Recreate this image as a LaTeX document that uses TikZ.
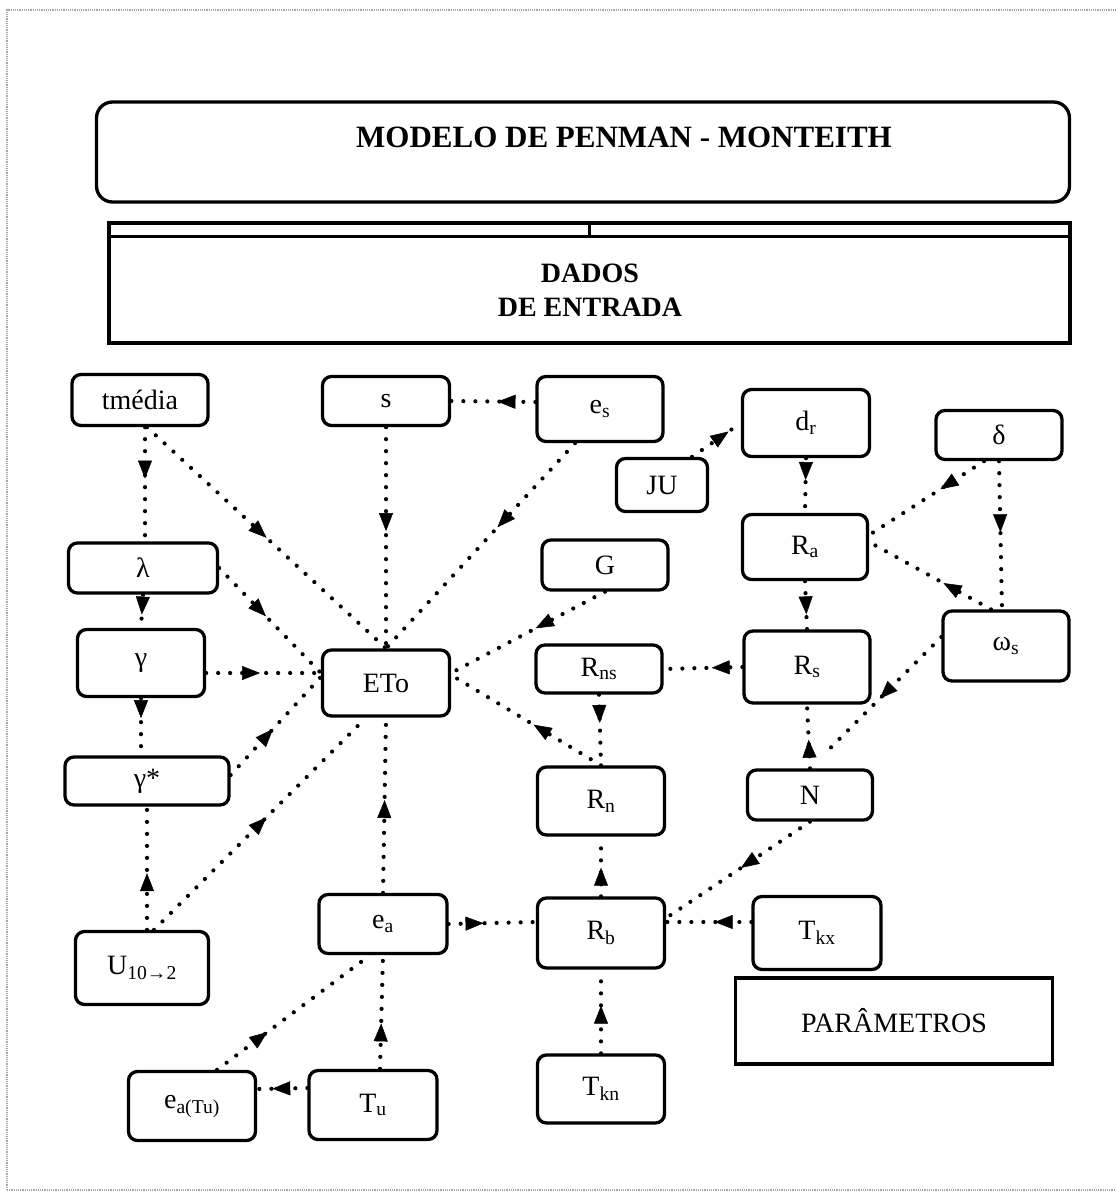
\documentclass[tikz,border=0pt]{standalone}
\usepackage{fontspec}
\setmainfont{Liberation Serif}
\usetikzlibrary{arrows.meta, decorations.markings}

\newcommand{\lblfont}{\fontsize{28}{31}\selectfont}
\newcommand{\sbs}[1]{\textsubscript{#1}}

\begin{document}
\begin{tikzpicture}[x=1pt, y=-1pt,
    box/.style 2 args = {draw, line width=3.3pt, rounded corners=9pt, minimum width=#1, minimum height=#2, inner sep=0pt, font=\lblfont},
    link/.style = {line width=4.2pt, line cap=round, dash pattern=on 0pt off 12pt},
    feed/.style = {link, postaction=decorate, decoration={markings, mark=at position #1 with {\arrow{Triangle[length=18pt, width=14pt, line width=0.5pt]}}}},
    feed/.default = 0.5]
        \useasboundingbox (0,0) rectangle (1116,1192);
        \draw[gray!70, line width=1.2pt, densely dotted] (7,1190) -- (7,10) -- (1116,10) (7,1190) -- (1116,1190);

        % cabecalho
        \node[draw, line width=3.3pt, rounded corners=16pt, minimum width=973, minimum height=100] (title) at (583,152) {};
        \node[font=\fontsize{31}{34}\selectfont\bfseries] (titletext) at (624,137) {MODELO DE PENMAN - MONTEITH};
        \node[draw, line width=3.3pt, minimum width=961, minimum height=120] (dados) at (589.5,283) {};
        \draw[line width=3.3pt] ([yshift=-15pt]dados.north west) -- ([yshift=-15pt]dados.north east);
        \draw[line width=2.4pt] (dados.north) -- ([yshift=-15pt]dados.north);
        \node[align=center, font=\fontsize{28}{34}\selectfont\bfseries] (dadostext) at (590,290) {DADOS\\DE ENTRADA};

        % caixas
        \node[box={136}{51}] (tmedia) at (140,400) {tmédia};
        \node[box={127}{49}] (s) at (386,401) {s};
        \node[box={126}{65}] (es) at (600,409) {e\sbs{s}};
        \node[box={127}{67}] (dr) at (806,423) {d\sbs{r}};
        \node[box={91}{53}] (JU) at (662,485) {JU};
        \node[box={126}{49}] (delta) at (999,435) {δ};
        \node[box={149}{50}] (lambda) at (143,568) {λ};
        \node[box={126}{50}] (G) at (605,565) {G};
        \node[box={125}{65}] (Ra) at (805,547) {R\sbs{a}};
        \node[box={127}{67}] (gamma) at (141,663) {γ};
        \node[box={127}{66}] (ETo) at (386,683) {ETo};
        \node[box={126}{48}] (Rns) at (599,669) {R\sbs{ns}};
        \node[box={126}{72}] (Rs) at (807,667) {R\sbs{s}};
        \node[box={126}{70}] (omega) at (1006,646) {ω\sbs{s}};
        \node[box={164}{48}] (gammastar) at (147,781) {γ*};
        \node[box={127}{68}] (Rn) at (601,801) {R\sbs{n}};
        \node[box={125}{50}] (N) at (810,795) {N};
        \node[box={133}{73}] (U) at (142,968) {U\sbs{10→2}};
        \node[box={128}{59}] (ea) at (383,924) {e\sbs{a}};
        \node[box={127}{70}] (Rb) at (601,933) {R\sbs{b}};
        \node[box={128}{73}] (Tkx) at (817,933) {T\sbs{kx}};
        \node[draw, line width=3.3pt, minimum width=317, minimum height=86, font=\lblfont] (param) at (894,1021) {PARÂMETROS};
        \node[box={127}{69}] (eaTu) at (192,1106) {e\sbs{a(Tu)}};
        \node[box={128}{69}] (Tu) at (373,1105) {T\sbs{u}};
        \node[box={127}{68}] (Tkn) at (601,1089) {T\sbs{kn}};

        % ligacoes
        \draw[feed=0.45] ([xshift=5pt]tmedia.south) -- ([xshift=2pt]lambda.north);
        \draw[feed=0.5] ([xshift=7pt]tmedia.south) -- (ETo.north);
        \draw[feed=0.6] (lambda.south) -- (gamma.north);
        \draw[feed=0.46] (lambda.east) -- ([yshift=10pt]ETo.west);
        \draw[feed=0.47] ([yshift=-10pt]gamma.east) -- ([yshift=10pt]ETo.west);
        \draw[feed=0.35] (gamma.south) -- ([xshift=-6pt]gammastar.north);
        \draw[feed=0.47] ([yshift=6pt]gammastar.east) -- ([yshift=6pt]ETo.west);
        \draw[feed=0.46] ([xshift=5pt]U.north) -- (gammastar.south);
        \draw[feed=0.53] ([xshift=12pt]U.north) -- ([xshift=-20pt]ETo.south);
        \draw[feed=0.45] ([yshift=7pt]es.west) -- (s.east);
        \draw[feed=0.47] (s.south) -- (ETo.north);
        \draw[feed=0.41] ([xshift=-25pt]es.south) -- (ETo.north);
        \draw[feed=0.53] (ea.north) -- (ETo.south);
        \draw[feed=0.45] (G.south) -- ([yshift=10pt]ETo.east);
        \draw[feed=0.45] (Rn.north) -- ([yshift=8pt]ETo.east);
        \draw[feed=0.75] ([xshift=30pt]JU.north) -- (dr.west);
        \draw[feed=0.4] (dr.south) -- (Ra.north);
        \draw[feed=0.69] (Ra.south) -- (Rs.north);
        \draw[feed=0.39] (Rs.west) -- (Rns.east);
        \draw[feed=0.4] (Rns.south) -- (Rn.north);
        \draw[feed=0.48] (Rb.north) -- (Rn.south);
        \draw[feed=0.57] (Tkn.north) -- (Rb.south);
        \draw[feed=0.43] ([yshift=11pt]Tkx.west) -- ([yshift=11pt]Rb.east);
        \draw[feed=0.48] (N.south) -- ([yshift=15pt]Rb.east);
        \draw[feed=0.4] (ea.east) -- ([yshift=11pt]Rb.west);
        \draw[feed=0.4] ([xshift=7pt]Tu.north) -- (ea.south);
        \draw[feed=0.7] ([yshift=17pt]Tu.west) -- ([yshift=17pt]eaTu.east);
        \draw[feed=0.33] ([xshift=25pt]eaTu.north) -- ([xshift=-13pt]ea.south);
        \draw[feed=0.48] (delta.south) -- ([xshift=-4pt]omega.north);
        \draw[feed=0.38] ([xshift=-15pt]delta.south) -- ([yshift=12pt]Ra.east);
        \draw[feed=0.39] ([xshift=-15pt]omega.north) -- ([yshift=5pt]Ra.east);
        \draw[feed=0.52] ([yshift=9pt]omega.west) -- ([xshift=13pt,yshift=13pt]N.north);
        \draw[feed=0.45] (N.north) -- (Rs.south);
\end{tikzpicture}
\end{document}
